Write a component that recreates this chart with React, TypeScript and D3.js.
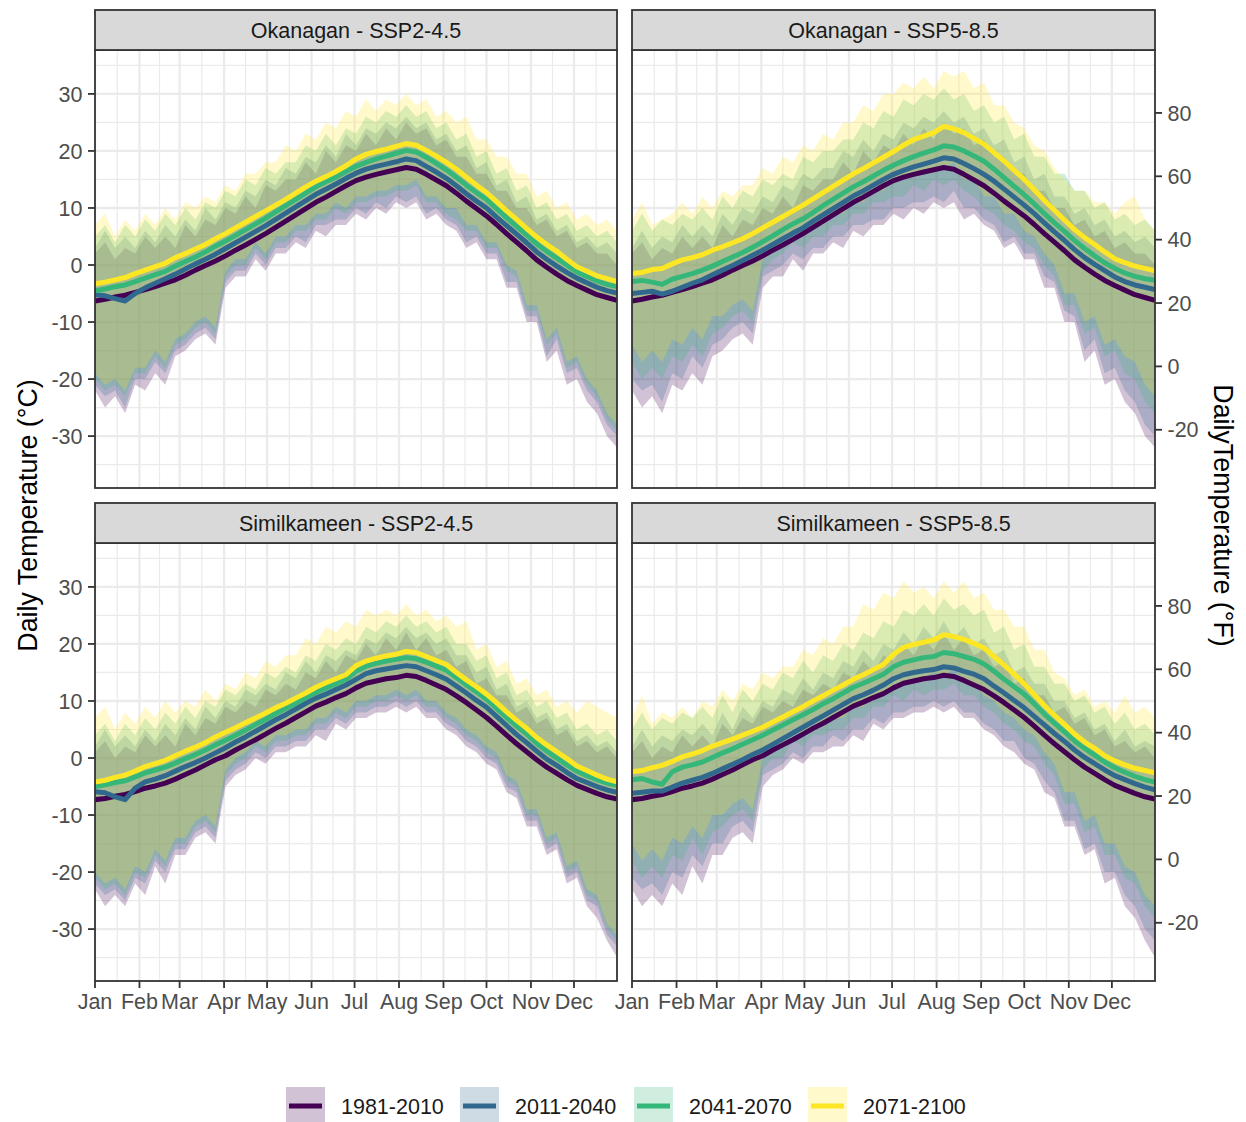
import React from 'react';
import * as d3 from 'd3';

// ---- categories, axes and labels ----
const PERIODS = ['1981-2010', '2011-2040', '2041-2070', '2071-2100'];
const PERIOD_COLORS = ['#440154', '#31688E', '#35B779', '#FDE725'];
const MONTHS = ['Jan', 'Feb', 'Mar', 'Apr', 'May', 'Jun', 'Jul', 'Aug', 'Sep', 'Oct', 'Nov', 'Dec'];
const MONTH_START_DAYS = [1, 32, 60, 91, 121, 152, 182, 213, 244, 274, 305, 335];
const C_TICKS = [-30, -20, -10, 0, 10, 20, 30];
const F_TICKS = [-20, 0, 20, 40, 60, 80];
// weekly sampling days (day of year)
const WEEK_DAYS = d3.range(1, 366, 7);

// ---- Okanagan, 1981-2010 (historical) ----
const OKA_HIST_MEAN = [
  -6.3, -6.0, -5.6, -5.3, -4.8, -4.3, -3.8, -3.2, -2.6, -1.8,
  -0.9, -0.1, 0.7, 1.6, 2.6, 3.5, 4.5, 5.5, 6.6, 7.7,
  8.8, 9.9, 11.0, 11.9, 12.9, 13.9, 14.8, 15.4, 15.9, 16.3,
  16.7, 17.1, 16.8, 15.9, 14.9, 13.9, 12.6, 11.2, 9.9, 8.6,
  7.1, 5.5, 4.0, 2.5, 0.9, -0.4, -1.6, -2.7, -3.6, -4.4,
  -5.2, -5.7, -6.2];
const OKA_HIST_LO = [
  -22, -25, -23, -26, -21, -22, -19, -21, -16, -15,
  -13, -12, -14, -4, -2, -2, 1, -1, 2, 2,
  4, 3, 6, 5, 7, 7, 9, 8, 10, 9,
  11, 10, 11, 8, 9, 7, 6, 3, 4, 1,
  1, -4, -4, -10, -10, -17, -15, -21, -20, -24,
  -26, -30, -32];
const OKA_HIST_HI = [
  2, 4, 1, 3, 2, 5, 3, 5, 3, 7,
  5, 8, 7, 10, 9, 12, 10, 14, 13, 15,
  15, 18, 16, 20, 18, 21, 20, 23, 21, 24,
  22, 25, 23, 24, 21, 22, 19, 19, 16, 16,
  13, 13, 10, 10, 7, 8, 5, 6, 3, 4,
  2, 2, 0];

// ---- Okanagan, SSP2-4.5 ----
const OKA_245_2011_MEAN = [
  -5.2, -5.4, -5.9, -6.3, -5.0, -4.0, -3.2, -2.4, -1.6, -0.7,
  0.2, 1.0, 1.9, 2.9, 3.9, 4.9, 5.9, 6.9, 8.0, 9.1,
  10.2, 11.3, 12.4, 13.3, 14.2, 15.2, 16.1, 16.8, 17.3, 17.7,
  18.1, 18.6, 18.3, 17.3, 16.3, 15.2, 13.9, 12.5, 11.2, 10.0,
  8.4, 6.9, 5.4, 3.9, 2.3, 1.0, -0.2, -1.3, -2.3, -3.1,
  -3.9, -4.5, -4.9];
const OKA_245_2011_LO = [
  -21, -23, -22, -25, -20, -20, -17, -19, -15, -14,
  -12, -11, -13, -3, -1, -1, 2, 0, 3, 3,
  5, 4, 7, 7, 8, 8, 10, 9, 11, 10,
  12, 11, 12, 9, 10, 8, 7, 4, 5, 2,
  2, -3, -3, -9, -9, -16, -13, -19, -18, -22,
  -24, -28, -30];
const OKA_245_2011_HI = [
  3, 6, 3, 5, 3, 6, 4, 7, 5, 8,
  6, 10, 8, 11, 10, 13, 12, 15, 14, 17,
  16, 19, 18, 21, 19, 23, 21, 24, 23, 25,
  24, 26, 24, 25, 22, 23, 20, 21, 17, 18,
  14, 15, 11, 12, 8, 9, 6, 7, 4, 5,
  3, 4, 2];
const OKA_245_2041_MEAN = [
  -4.5, -4.2, -3.8, -3.5, -2.9, -2.3, -1.7, -1.1, -0.2, 0.6,
  1.4, 2.3, 3.3, 4.2, 5.2, 6.2, 7.2, 8.2, 9.3, 10.4,
  11.5, 12.6, 13.7, 14.6, 15.4, 16.4, 17.3, 18.0, 18.6, 19.1,
  19.6, 20.1, 19.8, 18.9, 17.8, 16.7, 15.4, 14.0, 12.7, 11.5,
  9.9, 8.3, 6.8, 5.3, 3.7, 2.4, 1.2, 0.0, -1.2, -2.0,
  -2.8, -3.4, -3.8];
const OKA_245_2041_LO = [
  -20, -22, -21, -23, -19, -19, -16, -18, -14, -13,
  -11, -10, -12, -2, 0, 0, 3, 1, 4, 4,
  6, 6, 8, 8, 10, 9, 11, 11, 12, 12,
  13, 13, 14, 11, 11, 9, 8, 6, 6, 3,
  3, -1, -2, -8, -8, -14, -12, -18, -17, -21,
  -23, -27, -29];
const OKA_245_2041_HI = [
  5, 7, 4, 7, 5, 8, 6, 9, 7, 10,
  8, 11, 10, 13, 12, 15, 14, 17, 16, 18,
  18, 21, 20, 23, 21, 24, 23, 26, 25, 27,
  26, 28, 26, 27, 24, 25, 22, 23, 19, 20,
  16, 17, 13, 14, 10, 11, 8, 9, 6, 7,
  5, 6, 4];
const OKA_245_2071_MEAN = [
  -3.3, -3.0, -2.6, -2.2, -1.5, -0.9, -0.3, 0.3, 1.3, 2.0,
  2.8, 3.6, 4.6, 5.5, 6.5, 7.5, 8.5, 9.5, 10.5, 11.5,
  12.6, 13.7, 14.7, 15.5, 16.4, 17.4, 18.6, 19.4, 19.9, 20.3,
  20.8, 21.3, 21.0, 20.1, 19.1, 18.0, 16.8, 15.4, 14.0, 12.7,
  11.1, 9.5, 8.0, 6.4, 4.9, 3.6, 2.4, 1.0, -0.3, -1.1,
  -1.9, -2.4, -2.9];
const OKA_245_2071_LO = [
  -19, -21, -20, -22, -18, -18, -15, -17, -13, -12,
  -10, -9, -11, -1, 1, 1, 4, 2, 5, 5,
  7, 7, 9, 9, 11, 10, 12, 12, 13, 13,
  14, 14, 15, 12, 12, 10, 10, 7, 7, 4,
  4, 0, -1, -7, -7, -13, -11, -17, -16, -20,
  -22, -26, -28];
const OKA_245_2071_HI = [
  7, 9, 5, 8, 6, 9, 7, 10, 8, 11,
  10, 12, 11, 14, 13, 16, 16, 18, 18, 21,
  20, 23, 22, 25, 24, 27, 26, 29, 27, 29,
  28, 30, 28, 29, 26, 27, 25, 26, 22, 22,
  19, 19, 16, 16, 12, 13, 10, 11, 8, 9,
  7, 8, 6];

// ---- Okanagan, SSP5-8.5 ----
const OKA_585_2011_MEAN = [
  -5.0, -4.8, -4.6, -5.1, -4.6, -3.9, -3.2, -2.6, -1.7, -0.9,
  -0.1, 0.8, 1.7, 2.6, 3.6, 4.6, 5.6, 6.5, 7.7, 8.8,
  9.9, 11.0, 12.1, 13.0, 14.0, 15.0, 15.9, 16.6, 17.2, 17.7,
  18.2, 18.8, 18.6, 17.8, 16.9, 15.9, 14.7, 13.3, 11.9, 10.5,
  9.0, 7.4, 5.8, 4.3, 2.7, 1.3, 0.1, -1.0, -2.1, -2.9,
  -3.5, -3.9, -4.3];
const OKA_585_2011_LO = [
  -20, -22, -21, -24, -19, -20, -16, -18, -14, -13,
  -11, -10, -12, -2, -1, 0, 2, 1, 3, 3,
  5, 5, 7, 7, 8, 8, 10, 10, 11, 11,
  12, 11, 13, 10, 10, 8, 7, 4, 5, 2,
  2, -2, -3, -8, -9, -15, -13, -19, -18, -22,
  -24, -28, -30];
const OKA_585_2011_HI = [
  3, 6, 3, 5, 4, 7, 5, 7, 5, 9,
  7, 10, 9, 12, 11, 14, 13, 16, 15, 17,
  17, 20, 19, 22, 20, 23, 22, 25, 24, 26,
  25, 27, 25, 26, 23, 24, 21, 22, 18, 19,
  15, 16, 12, 12, 9, 10, 7, 8, 5, 6,
  4, 5, 3];
const OKA_585_2041_MEAN = [
  -2.9, -2.7, -3.0, -3.4, -2.5, -2.0, -1.5, -0.9, -0.2, 0.6,
  1.4, 2.2, 3.1, 4.1, 5.1, 6.2, 7.2, 8.1, 9.2, 10.4,
  11.5, 12.6, 13.7, 14.6, 15.6, 16.6, 17.5, 18.3, 19.0, 19.6,
  20.2, 20.9, 20.7, 20.0, 19.1, 18.2, 16.8, 15.3, 13.8, 12.3,
  10.7, 9.0, 7.4, 5.9, 4.3, 2.9, 1.6, 0.4, -0.6, -1.4,
  -2.0, -2.4, -2.7];
const OKA_585_2041_LO = [
  -17, -20, -18, -20, -16, -17, -14, -16, -12, -11,
  -9, -8, -10, -1, 1, 2, 4, 3, 5, 5,
  7, 7, 9, 9, 11, 11, 12, 12, 14, 13,
  15, 14, 15, 13, 12, 10, 9, 7, 6, 4,
  3, 0, -2, -7, -7, -12, -11, -16, -15, -19,
  -20, -24, -26];
const OKA_585_2041_HI = [
  6, 9, 6, 8, 7, 9, 8, 10, 8, 12,
  10, 13, 12, 15, 14, 16, 15, 19, 18, 20,
  20, 22, 22, 25, 24, 27, 26, 29, 28, 30,
  29, 31, 29, 30, 27, 28, 25, 26, 22, 23,
  19, 19, 16, 16, 13, 13, 10, 11, 8, 9,
  7, 8, 6];
const OKA_585_2071_MEAN = [
  -1.5, -1.3, -0.8, -0.6, 0.2, 0.9, 1.3, 1.8, 2.6, 3.2,
  3.9, 4.6, 5.5, 6.5, 7.5, 8.5, 9.5, 10.5, 11.6, 12.7,
  13.8, 14.9, 16.0, 16.9, 17.9, 18.9, 19.9, 21.0, 22.0, 22.6,
  23.2, 24.3, 23.9, 23.2, 22.2, 21.2, 19.7, 18.2, 16.6, 15.0,
  13.2, 11.3, 9.6, 7.9, 6.2, 4.8, 3.6, 2.3, 1.1, 0.4,
  -0.2, -0.6, -1.0];
const OKA_585_2071_LO = [
  -14, -17, -15, -17, -13, -14, -11, -13, -9, -9,
  -7, -6, -8, 1, 3, 4, 6, 5, 7, 7,
  9, 9, 11, 11, 13, 13, 15, 15, 16, 16,
  17, 17, 18, 15, 15, 12, 12, 9, 9, 6,
  5, 2, 0, -5, -5, -10, -9, -14, -13, -16,
  -17, -21, -23];
const OKA_585_2071_HI = [
  8, 11, 7, 8, 9, 11, 9, 12, 10, 13,
  12, 14, 14, 17, 16, 19, 18, 21, 20, 23,
  22, 25, 25, 28, 27, 30, 30, 32, 31, 33,
  31, 34, 33, 34, 31, 32, 28, 28, 25, 24,
  21, 20, 17, 15, 13, 13, 11, 11, 9, 11,
  12, 8, 6];

// ---- Similkameen, 1981-2010 (historical) ----
const SIM_HIST_MEAN = [
  -7.3, -7.1, -6.7, -6.4, -5.9, -5.3, -4.9, -4.4, -3.7, -2.9,
  -2.1, -1.2, -0.3, 0.4, 1.4, 2.3, 3.2, 4.2, 5.2, 6.1,
  7.1, 8.1, 9.1, 9.8, 10.6, 11.3, 12.3, 13.1, 13.5, 13.9,
  14.1, 14.5, 14.3, 13.6, 12.8, 12.0, 10.9, 9.7, 8.4, 7.1,
  5.6, 4.0, 2.5, 1.1, -0.3, -1.6, -2.7, -3.8, -4.8, -5.5,
  -6.2, -6.8, -7.2];
const SIM_HIST_LO = [
  -23, -26, -24, -26, -22, -24, -19, -22, -17, -17,
  -14, -13, -15, -5, -3, -2, 0, -1, 1, 1,
  2, 2, 4, 3, 6, 5, 7, 7, 8, 8,
  9, 8, 9, 7, 7, 5, 4, 2, 1, -1,
  -2, -6, -7, -12, -12, -17, -16, -22, -21, -26,
  -28, -32, -35];
const SIM_HIST_HI = [
  1, 3, 0, 2, 1, 4, 2, 4, 2, 6,
  4, 7, 6, 9, 8, 10, 9, 12, 11, 13,
  12, 15, 14, 17, 15, 18, 17, 20, 18, 21,
  19, 22, 19, 21, 18, 19, 16, 17, 13, 14,
  11, 11, 8, 9, 6, 7, 4, 5, 2, 3,
  1, 2, 0];

// ---- Similkameen, SSP2-4.5 ----
const SIM_245_2011_MEAN = [
  -5.9, -6.1, -6.8, -7.3, -5.3, -4.2, -3.7, -3.1, -2.3, -1.5,
  -0.8, 0.0, 0.9, 1.8, 2.8, 3.7, 4.7, 5.7, 6.7, 7.6,
  8.6, 9.6, 10.5, 11.2, 12.0, 12.8, 13.8, 14.8, 15.3, 15.6,
  15.9, 16.2, 16.0, 15.3, 14.6, 13.8, 12.6, 11.4, 10.1, 8.9,
  7.3, 5.7, 4.1, 2.7, 1.2, -0.2, -1.3, -2.5, -3.6, -4.3,
  -5.0, -5.6, -6.0];
const SIM_245_2011_LO = [
  -22, -24, -23, -25, -21, -22, -18, -20, -16, -16,
  -13, -12, -14, -4, -2, -1, 1, 0, 2, 2,
  3, 3, 5, 5, 7, 6, 8, 8, 9, 9,
  10, 9, 10, 8, 8, 6, 5, 3, 2, 0,
  -1, -5, -6, -11, -11, -16, -15, -21, -20, -25,
  -26, -31, -33];
const SIM_245_2011_HI = [
  2, 5, 2, 4, 2, 5, 3, 6, 4, 7,
  5, 9, 7, 10, 9, 12, 11, 13, 12, 15,
  14, 17, 15, 18, 17, 19, 18, 21, 20, 22,
  21, 23, 21, 22, 20, 21, 18, 18, 15, 16,
  12, 13, 9, 10, 7, 8, 5, 6, 3, 4,
  2, 3, 1];
const SIM_245_2041_MEAN = [
  -5.0, -4.7, -4.3, -4.0, -3.3, -2.6, -2.1, -1.6, -0.9, -0.1,
  0.6, 1.4, 2.3, 3.1, 4.0, 4.9, 5.9, 6.8, 7.8, 8.7,
  9.6, 10.6, 11.5, 12.3, 13.0, 13.8, 15.2, 16.1, 16.6, 17.0,
  17.3, 17.6, 17.4, 16.8, 16.1, 15.4, 14.1, 12.8, 11.6, 10.3,
  8.7, 7.1, 5.6, 4.2, 2.6, 1.2, 0.0, -1.2, -2.3, -3.1,
  -3.8, -4.4, -4.8];
const SIM_245_2041_LO = [
  -21, -23, -22, -24, -20, -21, -17, -19, -15, -15,
  -12, -11, -13, -3, -1, 0, 2, 1, 3, 3,
  4, 4, 6, 6, 8, 7, 9, 9, 10, 10,
  11, 10, 11, 9, 9, 7, 6, 4, 3, 1,
  0, -4, -5, -10, -10, -15, -14, -20, -19, -24,
  -25, -30, -32];
const SIM_245_2041_HI = [
  4, 6, 3, 6, 4, 7, 5, 8, 6, 9,
  7, 10, 9, 12, 11, 13, 12, 15, 14, 16,
  15, 18, 17, 20, 19, 21, 20, 23, 22, 24,
  23, 25, 23, 24, 22, 23, 20, 20, 17, 18,
  14, 15, 11, 12, 9, 10, 7, 8, 5, 6,
  4, 5, 3];
const SIM_245_2071_MEAN = [
  -4.2, -3.9, -3.4, -3.0, -2.3, -1.5, -1.0, -0.4, 0.4, 1.2,
  1.9, 2.7, 3.7, 4.5, 5.3, 6.2, 7.0, 7.9, 8.8, 9.6,
  10.5, 11.4, 12.4, 13.2, 13.9, 14.6, 16.2, 17.0, 17.5, 17.9,
  18.2, 18.7, 18.5, 17.8, 17.1, 16.4, 15.0, 13.7, 12.5, 11.2,
  9.7, 8.1, 6.6, 5.2, 3.6, 2.3, 1.1, -0.1, -1.4, -2.2,
  -3.0, -3.7, -4.2];
const SIM_245_2071_LO = [
  -20, -22, -21, -23, -19, -20, -16, -18, -14, -14,
  -11, -10, -12, -2, 0, 1, 3, 2, 4, 4,
  5, 5, 7, 7, 9, 8, 10, 10, 11, 11,
  12, 11, 12, 10, 10, 8, 7, 5, 4, 2,
  1, -3, -4, -9, -9, -14, -13, -19, -18, -23,
  -24, -29, -31];
const SIM_245_2071_HI = [
  7, 9, 5, 8, 6, 9, 7, 10, 8, 10,
  9, 12, 10, 13, 12, 15, 14, 17, 16, 18,
  18, 21, 20, 23, 22, 24, 23, 26, 25, 26,
  25, 27, 25, 26, 24, 25, 23, 24, 19, 20,
  16, 17, 13, 14, 11, 12, 9, 10, 8, 10,
  9, 8, 7];

// ---- Similkameen, SSP5-8.5 ----
const SIM_585_2011_MEAN = [
  -6.2, -6.0, -5.8, -5.8, -5.1, -4.4, -3.9, -3.4, -2.7, -1.9,
  -1.1, -0.3, 0.6, 1.4, 2.4, 3.4, 4.4, 5.4, 6.4, 7.4,
  8.4, 9.4, 10.4, 11.1, 11.9, 12.8, 13.9, 14.6, 15.0, 15.3,
  15.5, 16.0, 15.8, 15.2, 14.7, 13.9, 12.6, 11.4, 10.1, 8.8,
  7.3, 5.8, 4.3, 2.9, 1.4, 0.1, -1.0, -2.1, -3.1, -3.8,
  -4.5, -5.1, -5.6];
const SIM_585_2011_LO = [
  -21, -23, -22, -24, -20, -21, -17, -19, -15, -15,
  -12, -11, -13, -3, -2, -1, 1, 0, 2, 2,
  4, 3, 5, 5, 7, 6, 8, 8, 9, 9,
  10, 9, 10, 8, 8, 6, 5, 3, 3, 0,
  -1, -4, -6, -11, -11, -16, -15, -20, -20, -24,
  -26, -30, -32];
const SIM_585_2011_HI = [
  2, 5, 2, 4, 3, 5, 4, 6, 4, 8,
  5, 9, 7, 10, 9, 12, 11, 14, 12, 15,
  14, 17, 16, 19, 17, 20, 19, 22, 20, 23,
  21, 24, 21, 23, 20, 21, 18, 19, 15, 16,
  13, 13, 10, 10, 7, 8, 5, 6, 3, 5,
  2, 3, 2];
const SIM_585_2041_MEAN = [
  -3.8, -3.6, -4.2, -4.6, -2.4, -1.6, -1.2, -0.7, 0.1, 0.9,
  1.6, 2.4, 3.2, 4.0, 4.9, 5.8, 6.7, 7.6, 8.5, 9.5,
  10.4, 11.4, 12.4, 13.1, 13.9, 14.7, 16.0, 16.8, 17.2, 17.6,
  17.8, 18.5, 18.3, 17.8, 17.3, 16.5, 15.2, 13.8, 12.5, 11.2,
  9.5, 7.7, 6.1, 4.6, 3.0, 1.7, 0.5, -0.7, -1.7, -2.5,
  -3.2, -3.8, -4.2];
const SIM_585_2041_LO = [
  -18, -21, -19, -21, -17, -18, -14, -17, -13, -12,
  -10, -9, -11, -2, 0, 0, 3, 2, 4, 4,
  5, 5, 7, 7, 9, 9, 11, 10, 12, 11,
  12, 12, 13, 11, 11, 9, 8, 6, 5, 3,
  2, -1, -3, -8, -8, -13, -12, -17, -17, -21,
  -22, -26, -28];
const SIM_585_2041_HI = [
  5, 8, 5, 7, 6, 8, 7, 9, 7, 11,
  8, 12, 10, 13, 12, 15, 14, 17, 15, 18,
  17, 20, 19, 22, 21, 24, 23, 26, 25, 27,
  25, 28, 26, 27, 25, 26, 22, 23, 19, 20,
  16, 16, 13, 13, 10, 11, 8, 9, 6, 8,
  5, 6, 4];
const SIM_585_2071_MEAN = [
  -2.4, -2.2, -1.7, -1.3, -0.6, 0.2, 0.7, 1.3, 2.1, 2.7,
  3.3, 4.0, 4.7, 5.4, 6.3, 7.2, 8.1, 9.0, 10.0, 10.9,
  11.9, 12.8, 13.8, 14.6, 15.5, 16.4, 18.2, 19.4, 19.9, 20.3,
  20.7, 21.6, 21.3, 20.8, 20.1, 19.3, 17.8, 16.3, 14.7, 13.0,
  11.1, 9.2, 7.5, 5.9, 4.2, 2.8, 1.7, 0.4, -0.5, -1.2,
  -1.8, -2.2, -2.6];
const SIM_585_2071_LO = [
  -15, -18, -16, -18, -14, -15, -12, -14, -10, -10,
  -8, -7, -9, 0, 2, 2, 5, 4, 6, 6,
  7, 7, 9, 9, 11, 11, 13, 13, 14, 14,
  15, 14, 16, 13, 13, 11, 10, 8, 7, 5,
  4, 1, -1, -6, -6, -11, -10, -15, -15, -19,
  -20, -24, -26];
const SIM_585_2071_HI = [
  7, 11, 6, 8, 7, 9, 7, 10, 9, 12,
  10, 13, 12, 15, 14, 16, 16, 19, 18, 21,
  20, 23, 23, 27, 26, 29, 28, 31, 29, 30,
  28, 31, 29, 31, 28, 29, 26, 26, 23, 23,
  19, 19, 15, 14, 11, 12, 9, 10, 8, 11,
  8, 9, 7];

// ---- facet table built from the arrays above ----
type Band = { mean: number[]; lo: number[]; hi: number[] };
type Facet = { title: string; row: number; col: number; bands: Band[] };

const OKA_HIST: Band = { mean: OKA_HIST_MEAN, lo: OKA_HIST_LO, hi: OKA_HIST_HI };
const SIM_HIST: Band = { mean: SIM_HIST_MEAN, lo: SIM_HIST_LO, hi: SIM_HIST_HI };

const FACETS: Facet[] = [
  {
    title: 'Okanagan - SSP2-4.5', row: 0, col: 0, bands: [
      OKA_HIST,
      { mean: OKA_245_2011_MEAN, lo: OKA_245_2011_LO, hi: OKA_245_2011_HI },
      { mean: OKA_245_2041_MEAN, lo: OKA_245_2041_LO, hi: OKA_245_2041_HI },
      { mean: OKA_245_2071_MEAN, lo: OKA_245_2071_LO, hi: OKA_245_2071_HI },
    ],
  },
  {
    title: 'Okanagan - SSP5-8.5', row: 0, col: 1, bands: [
      OKA_HIST,
      { mean: OKA_585_2011_MEAN, lo: OKA_585_2011_LO, hi: OKA_585_2011_HI },
      { mean: OKA_585_2041_MEAN, lo: OKA_585_2041_LO, hi: OKA_585_2041_HI },
      { mean: OKA_585_2071_MEAN, lo: OKA_585_2071_LO, hi: OKA_585_2071_HI },
    ],
  },
  {
    title: 'Similkameen - SSP2-4.5', row: 1, col: 0, bands: [
      SIM_HIST,
      { mean: SIM_245_2011_MEAN, lo: SIM_245_2011_LO, hi: SIM_245_2011_HI },
      { mean: SIM_245_2041_MEAN, lo: SIM_245_2041_LO, hi: SIM_245_2041_HI },
      { mean: SIM_245_2071_MEAN, lo: SIM_245_2071_LO, hi: SIM_245_2071_HI },
    ],
  },
  {
    title: 'Similkameen - SSP5-8.5', row: 1, col: 1, bands: [
      SIM_HIST,
      { mean: SIM_585_2011_MEAN, lo: SIM_585_2011_LO, hi: SIM_585_2011_HI },
      { mean: SIM_585_2041_MEAN, lo: SIM_585_2041_LO, hi: SIM_585_2041_HI },
      { mean: SIM_585_2071_MEAN, lo: SIM_585_2071_LO, hi: SIM_585_2071_HI },
    ],
  },
];

// ---- layout ----
const W = 1246;
const H = 1122;
const COLS = [{ x0: 95, x1: 617 }, { x0: 632, x1: 1155 }];
const ROWS = [
  { stripTop: 10, top: 50, bottom: 488 },
  { stripTop: 503, top: 543, bottom: 981 },
];
const Y_DOMAIN: [number, number] = [-39.1, 37.7];
const DAY_DOMAIN: [number, number] = [1, 365];
const FONT = '"Liberation Sans", Arial, Helvetica, sans-serif';
const TICK_FS = 21.5;
const TITLE_FS = 26.8;
const RIBBON_ALPHA = 0.24;
const GRID = '#ebebeb';
const DARK = '#333333';

const fToC = (f: number) => (f - 32) / 1.8;

function FacetPanel({ facet, idx }: { facet: Facet; idx: number }) {
  const col = COLS[facet.col];
  const row = ROWS[facet.row];
  const x = d3.scaleLinear().domain(DAY_DOMAIN).range([col.x0, col.x1]);
  const y = d3.scaleLinear().domain(Y_DOMAIN).range([row.bottom, row.top]);

  const majorY = C_TICKS;
  const minorY = d3.range(-35, 36, 10);
  const majorX = MONTH_START_DAYS;
  const minorX = MONTH_START_DAYS.map((d, i) => (d + (MONTH_START_DAYS[i + 1] ?? 366)) / 2);

  const clipId = `clip-${idx}`;
  const pw = col.x1 - col.x0;
  const ph = row.bottom - row.top;

  const ribbon = (b: Band) =>
    d3.area<number>()
      .x((_, i) => x(WEEK_DAYS[i]))
      .y0((_, i) => y(b.lo[i]))
      .y1((_, i) => y(b.hi[i]))(b.lo) || '';
  const line = (b: Band) =>
    d3.line<number>()
      .x((_, i) => x(WEEK_DAYS[i]))
      .y((d) => y(d))(b.mean) || '';

  return (
    <g>
      <defs>
        <clipPath id={clipId}>
          <rect x={col.x0} y={row.top} width={pw} height={ph} />
        </clipPath>
      </defs>
      <rect x={col.x0} y={row.top} width={pw} height={ph} fill="#ffffff" />
      <g clipPath={`url(#${clipId})`}>
        {minorY.map((v) => (
          <line key={`my${v}`} x1={col.x0} x2={col.x1} y1={y(v)} y2={y(v)} stroke={GRID} strokeWidth={1.2} />
        ))}
        {minorX.map((d) => (
          <line key={`mx${d}`} x1={x(d)} x2={x(d)} y1={row.top} y2={row.bottom} stroke={GRID} strokeWidth={1.2} />
        ))}
        {majorY.map((v) => (
          <line key={`My${v}`} x1={col.x0} x2={col.x1} y1={y(v)} y2={y(v)} stroke={GRID} strokeWidth={2.3} />
        ))}
        {majorX.map((d) => (
          <line key={`Mx${d}`} x1={x(d)} x2={x(d)} y1={row.top} y2={row.bottom} stroke={GRID} strokeWidth={2.3} />
        ))}
        {facet.bands.map((b, i) => (
          <path key={`r${i}`} d={ribbon(b)} fill={PERIOD_COLORS[i]} fillOpacity={RIBBON_ALPHA} stroke="none" />
        ))}
        {facet.bands.map((b, i) => (
          <path key={`l${i}`} d={line(b)} fill="none" stroke={PERIOD_COLORS[i]} strokeWidth={5}
            strokeLinejoin="round" />
        ))}
      </g>
      <rect x={col.x0} y={row.top} width={pw} height={ph} fill="none" stroke={DARK} strokeWidth={1.8} />

      {/* strip */}
      <rect x={col.x0} y={row.stripTop} width={pw} height={row.top - row.stripTop}
        fill="#d9d9d9" stroke={DARK} strokeWidth={1.8} />
      <text x={(col.x0 + col.x1) / 2} y={(row.stripTop + row.top) / 2 + 7.6} textAnchor="middle"
        fontFamily={FONT} fontSize={TICK_FS} fill="#1a1a1a">{facet.title}</text>

      {/* left axis in degrees C */}
      {facet.col === 0 && C_TICKS.map((v) => (
        <g key={`cy${v}`}>
          <line x1={col.x0 - 7} x2={col.x0} y1={y(v)} y2={y(v)} stroke={DARK} strokeWidth={1.8} />
          <text x={col.x0 - 12.5} y={y(v) + 7.6} textAnchor="end" fontFamily={FONT}
            fontSize={TICK_FS} fill="#4d4d4d">{v}</text>
        </g>
      ))}

      {/* right axis in degrees F */}
      {facet.col === 1 && F_TICKS.map((f) => (
        <g key={`fy${f}`}>
          <line x1={col.x1} x2={col.x1 + 7} y1={y(fToC(f))} y2={y(fToC(f))} stroke={DARK} strokeWidth={1.8} />
          <text x={col.x1 + 12.5} y={y(fToC(f)) + 7.6} textAnchor="start" fontFamily={FONT}
            fontSize={TICK_FS} fill="#4d4d4d">{f}</text>
        </g>
      ))}

      {/* month axis */}
      {facet.row === 1 && MONTH_START_DAYS.map((d, i) => (
        <g key={`mt${i}`}>
          <line x1={x(d)} x2={x(d)} y1={row.bottom} y2={row.bottom + 7} stroke={DARK} strokeWidth={1.8} />
          <text x={x(d)} y={row.bottom + 28} textAnchor="middle" fontFamily={FONT}
            fontSize={TICK_FS} fill="#4d4d4d">{MONTHS[i]}</text>
        </g>
      ))}
    </g>
  );
}

function Legend() {
  const startX = 286;
  const step = 174;
  const keyW = 39;
  const keyTop = 1087;
  const keyH = 39;
  const midY = 1106;
  return (
    <g>
      {PERIODS.map((p, i) => {
        const kx = startX + i * step;
        return (
          <g key={p}>
            <rect x={kx} y={keyTop} width={keyW} height={keyH} fill={PERIOD_COLORS[i]} fillOpacity={RIBBON_ALPHA} />
            <line x1={kx + 3} x2={kx + keyW - 3} y1={midY} y2={midY} stroke={PERIOD_COLORS[i]} strokeWidth={5} />
            <text x={kx + 55} y={midY + 7.6} fontFamily={FONT} fontSize={TICK_FS} fill="#1a1a1a">{p}</text>
          </g>
        );
      })}
    </g>
  );
}

export default function App() {
  const midY = (ROWS[0].top + ROWS[1].bottom) / 2;
  return (
    <div style={{ position: 'absolute', left: 0, top: 0 }}>
      <svg width={W} height={H} viewBox={`0 0 ${W} ${H}`} style={{ display: 'block', background: '#ffffff' }}>
        <rect x={0} y={0} width={W} height={H} fill="#ffffff" />
        {FACETS.map((f, i) => (
          <FacetPanel key={f.title} facet={f} idx={i} />
        ))}
        <text transform={`translate(36.5, ${midY}) rotate(-90)`} textAnchor="middle" fontFamily={FONT}
          fontSize={TITLE_FS} fill="#000000">Daily Temperature (°C)</text>
        <text transform={`translate(1214, ${midY}) rotate(90)`} textAnchor="middle" fontFamily={FONT}
          fontSize={TITLE_FS} fill="#000000">DailyTemperature (°F)</text>
        <Legend />
      </svg>
    </div>
  );
}
